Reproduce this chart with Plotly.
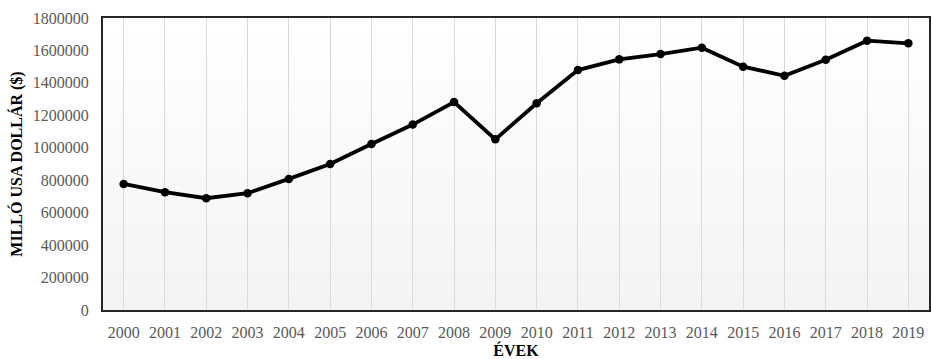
import plotly.graph_objects as go

# Annual values, million US dollars
years = [str(y) for y in range(2000, 2020)]
values = [777000, 726000, 689000, 720000, 808000, 900000, 1023000, 1143000,
          1282000, 1052000, 1274000, 1479000, 1545000, 1578000, 1617000,
          1500000, 1444000, 1543000, 1660000, 1644000]
y_ticks = [0, 200000, 400000, 600000, 800000, 1000000, 1200000, 1400000,
           1600000, 1800000]

SERIF = "Liberation Serif, Times New Roman, serif"

fig = go.Figure()
fig.add_trace(go.Scatter(
    x=years, y=values, mode="lines+markers",
    line=dict(color="black", width=3.8),
    marker=dict(color="black", size=8.5),
    hoverinfo="x+y", showlegend=False,
))

# Soft vertical gradient in the plotting area (white at top, light grey at bottom)
n_strips = 60
for i in range(n_strips):
    t = i / (n_strips - 1)
    g = round(255 - t * 12)
    fig.add_shape(type="rect", xref="paper", yref="paper",
                  x0=0, x1=1, y0=1 - (i + 1) / n_strips, y1=1 - i / n_strips,
                  fillcolor=f"rgb({g},{g},{g})", line=dict(width=0), layer="below")

fig.update_layout(
    width=932, height=359,
    margin=dict(l=103, r=1, t=18, b=49),
    paper_bgcolor="white", plot_bgcolor="white",
    font=dict(family=SERIF, color="#595959", size=16),
    xaxis=dict(
        type="category", range=[-0.5, 19.5],
        showgrid=True, gridcolor="#dadada", gridwidth=1.2,
        showline=True, linecolor="#262626", linewidth=2, mirror=True,
        ticks="", ticklabelstandoff=7,
        tickfont=dict(family=SERIF, size=16, color="#595959"),
        title=dict(text="<b>ÉVEK</b>", font=dict(family=SERIF, size=16, color="black"),
                   standoff=5),
    ),
    yaxis=dict(
        range=[0, 1800000], tickvals=y_ticks, tickformat="d",
        showgrid=False, zeroline=False,
        showline=True, linecolor="#262626", linewidth=2, mirror=True,
        ticks="", ticklabelstandoff=9,
        tickfont=dict(family=SERIF, size=16, color="#595959"),
        title=dict(text="<b>MILLÓ USA DOLLÁR ($)</b>",
                   font=dict(family=SERIF, size=16, color="black"), standoff=6),
    ),
)

fig.write_html("out.html")
